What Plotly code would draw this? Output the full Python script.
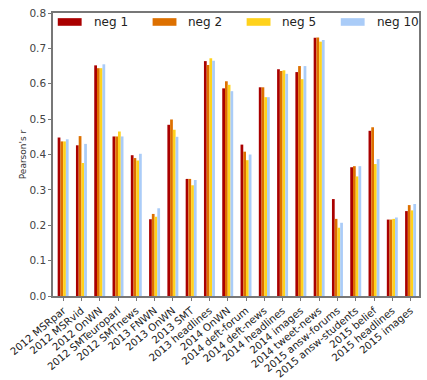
import plotly.graph_objects as go

datasets = ["2012 MSRpar", "2012 MSRvid", "2012 OnWN", "2012 SMTeuroparl", "2012 SMTnews",
            "2013 FNWN", "2013 OnWN", "2013 SMT", "2013 headlines", "2014 OnWN",
            "2014 deft-forum", "2014 deft-news", "2014 headlines", "2014 images", "2014 tweet-news",
            "2015 answ-forums", "2015 answ-students", "2015 belief", "2015 headlines", "2015 images"]

neg1 = [0.448, 0.426, 0.652, 0.451, 0.398, 0.217, 0.484, 0.331, 0.664, 0.587,
        0.428, 0.590, 0.641, 0.633, 0.730, 0.274, 0.364, 0.467, 0.216, 0.240]
neg2 = [0.437, 0.452, 0.644, 0.451, 0.390, 0.232, 0.499, 0.331, 0.653, 0.607,
        0.408, 0.590, 0.636, 0.650, 0.731, 0.218, 0.367, 0.477, 0.216, 0.257]
neg5 = [0.437, 0.376, 0.644, 0.465, 0.383, 0.224, 0.470, 0.313, 0.672, 0.597,
        0.384, 0.562, 0.638, 0.613, 0.719, 0.193, 0.338, 0.373, 0.218, 0.242]
neg10 = [0.443, 0.430, 0.655, 0.451, 0.402, 0.248, 0.450, 0.328, 0.665, 0.579,
         0.400, 0.562, 0.628, 0.650, 0.724, 0.207, 0.367, 0.387, 0.222, 0.260]

series = [("neg 1", neg1, "#aa0000"), ("neg 2", neg2, "#dd7000"),
          ("neg 5", neg5, "#ffd21c"), ("neg 10", neg10, "#aaccf8")]

fig = go.Figure()
for name, vals, col in series:
    fig.add_trace(go.Bar(x=datasets, y=vals, name=name, marker=dict(color=col, line=dict(width=0))))

# matplotlib-style legend: wide flat patches inside the top of the axes
leg_x = [57.3, 152.7, 247.3, 342.0]
for (name, vals, col), lx in zip(series, leg_x):
    fig.add_shape(type="rect", xref="paper", yref="paper",
                  x0=(lx - 52.5) / 368.2, x1=(lx + 24 - 52.5) / 368.2,
                  y0=(295.7 - 23.2) / 285.4, y1=(295.7 - 15.5) / 285.4,
                  fillcolor=col, line=dict(width=0))
    fig.add_annotation(text=name, xref="paper", yref="paper",
                       x=(lx + 34 - 52.5) / 368.2, y=(295.7 - 19.3) / 285.4,
                       xanchor="left", yanchor="middle", showarrow=False,
                       font=dict(size=12, color="#222"))

fig.update_layout(
    width=427, height=380,
    barmode="group", bargap=0.4, bargroupgap=0,
    plot_bgcolor="white", paper_bgcolor="white",
    margin=dict(l=52.5, r=6.3, t=10.3, b=84.3),
    font=dict(family="DejaVu Sans", size=10, color="#333"),
    showlegend=False,
)
fig.update_xaxes(range=[-0.555, 19.46], tickangle=-40, automargin=False,
                 showline=True, mirror=True,
                 linecolor="#777", linewidth=1.5, ticks="outside", ticklen=3,
                 tickcolor="#777", tickfont=dict(size=10.2, color="#222"))
fig.update_yaxes(range=[0, 0.8], dtick=0.1, tickformat=".1f", showline=True, mirror=True,
                 linecolor="#777", linewidth=1.5, ticks="outside", ticklen=3,
                 tickcolor="#777", showgrid=False, zeroline=False,
                 title=dict(text="Pearson's r", font=dict(size=9, color="#333"), standoff=1),
                 tickfont=dict(size=10.5, color="#444"))

# drop the page's default body margin so the 427x380 figure fills the window
fig.write_html("out.html", config={"displayModeBar": False},
               post_script="document.body.style.margin='0';")
